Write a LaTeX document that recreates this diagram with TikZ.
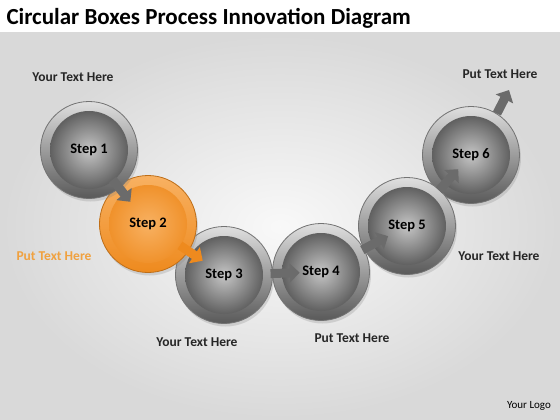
\documentclass[tikz,border=0pt]{standalone}
\usepackage{fontspec}
\setmainfont{Carlito}
\usetikzlibrary{calc,arrows.meta,shadows}

\definecolor{ringorange}{HTML}{F8B162}
\definecolor{deeporange}{HTML}{EE8A1E}
\definecolor{lightorange}{HTML}{F6A54A}
\definecolor{labelorange}{HTML}{F0A13F}

\tikzset{
  stepball/.style={circle, minimum size=97pt, inner sep=0pt, draw=black!55, line width=0.8pt,
    top color=gray!25, bottom color=gray!70!black,
    drop shadow={opacity=0.25, shadow xshift=1.5pt, shadow yshift=-3pt},
    font=\bfseries\fontsize{14.5}{17}\selectfont,
    path picture={\shade[inner color=gray!45, outer color=black!72]
      (path picture bounding box.center) circle (39pt);}},
  hotball/.style={stepball, draw=deeporange!80!black, top color=ringorange, bottom color=deeporange,
    path picture={\shade[inner color=ringorange, outer color=deeporange]
      (path picture bounding box.center) circle (39pt);}},
  link/.style={line width=9pt, draw=black!58, -{Triangle[length=10pt,width=19pt]}},
  hotlink/.style={link, draw=deeporange},
  note/.style={font=\bfseries\fontsize{13.5}{16}\selectfont, text=black!85},
}

\begin{document}
\begin{tikzpicture}[x=1pt, y=-1pt]
  \useasboundingbox (0,0) rectangle (560,420);
  % backdrop
  \fill[white] (0,0) rectangle (560,33);
  \shade[inner color=gray!5, outer color=gray!30] (0,33) rectangle (560,420);
  \node[anchor=west, font=\bfseries\fontsize{23}{27}\selectfont] (title) at (3,18)
    {Circular Boxes Process Innovation Diagram};

  % steps
  \node[stepball] (s6) at (471,155) {Step 6};
  \node[stepball] (s5) at (407,226) {Step 5};
  \node[stepball] (s4) at (321,272) {Step 4};
  \node[stepball] (s3) at (224,275) {Step 3};
  \node[hotball]  (s2) at (148,224) {Step 2};
  \node[stepball] (s1) at (89,150)  {Step 1};
  \coordinate (tip) at (509,90);

  \draw[link]    ($(s1)!0.40!(s2)$) -- ($(s1)!0.70!(s2)$);
  \draw[hotlink] ($(s2)!0.42!(s3)$) -- ($(s2)!0.72!(s3)$);
  \draw[link]    ($(s3)!0.48!(s4)$) -- ($(s3)!0.78!(s4)$);
  \draw[link]    ($(s4)!0.48!(s5)$) -- ($(s4)!0.78!(s5)$);
  \draw[link]    ($(s5)!0.50!(s6)$) -- ($(s5)!0.80!(s6)$);
  \draw[link]    (s6.58) -- (tip);

  % notes
  \node[note] (n1) at (73,77)  {Your Text Here};
  \node[note] (n2) at (500,74) {Put Text Here};
  \node[note, text=labelorange] (n3) at (54,256) {Put Text Here};
  \node[note] (n4) at (499,256) {Your Text Here};
  \node[note] (n5) at (197,342) {Your Text Here};
  \node[note] (n6) at (352,338) {Put Text Here};
  \node[font=\fontsize{11}{13}\selectfont] (logo) at (529,406) {Your Logo};
\end{tikzpicture}
\end{document}
